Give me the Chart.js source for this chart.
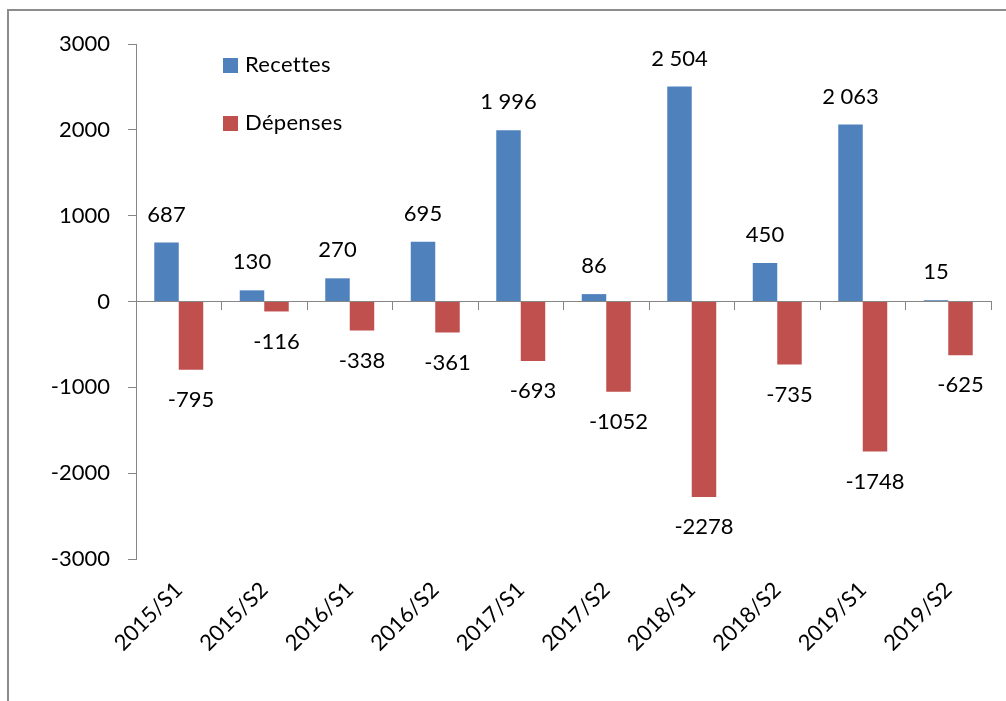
<!DOCTYPE html>
<html>
<head>
<meta charset="utf-8">
<script src="https://cdn.jsdelivr.net/npm/chart.js@4.4.1/dist/chart.umd.min.js"></script>
<style>
  html, body { margin: 0; padding: 0; background: #fff; }
  #wrap { position: relative; width: 1006px; height: 701px; overflow: hidden; }
  #frame {
    position: absolute; left: 7px; top: 9px; width: 1040px; height: 740px;
    border-left: 2px solid #8c8c8c; border-top: 2px solid #8c8c8c;
  }
  #chart { position: absolute; left: 0; top: 0; }
</style>
</head>
<body>
<div id="wrap">
  <div id="frame"></div>
  <canvas id="chart" width="1006" height="701"></canvas>
</div>
<script>
// ---------- Data ----------

const periods = ['2015/S1', '2015/S2', '2016/S1', '2016/S2', '2017/S1',
                 '2017/S2', '2018/S1', '2018/S2', '2019/S1', '2019/S2'];
const recettes = [687, 130, 270, 695, 1996, 86, 2504, 450, 2063, 15];
const depenses = [-795, -116, -338, -361, -693, -1052, -2278, -735, -1748, -625];
const yTicks = [-3000, -2000, -1000, 0, 1000, 2000, 3000];

const FONT = 'Lato, "Noto Sans", sans-serif';
const AXIS_GREY = '#868686';

// positive values get a space as thousands separator, negatives don't
function fmt(v) {
  if (v >= 1000) {
    return String(v).replace(/\B(?=(\d{3})+(?!\d))/g, ' ');
  }
  return String(v);
}

// ---------- Plugins ----------

const valueLabels = {
  id: 'valueLabels',
  afterDatasetsDraw(chart) {
    const ctx = chart.ctx;
    ctx.save();
    ctx.font = '22px ' + FONT;
    ctx.fillStyle = '#000';
    ctx.textAlign = 'center';
    ctx.textBaseline = 'middle';
    chart.data.datasets.forEach((ds, i) => {
      chart.getDatasetMeta(i).data.forEach((bar, j) => {
        const v = ds.data[j];
        const y = v >= 0 ? bar.y - 28 : bar.y + 30;
        ctx.fillText(fmt(v), bar.x, y);
      });
    });
    ctx.restore();
  }
};

const innerLegend = {
  id: 'innerLegend',
  afterDraw(chart) {
    const ctx = chart.ctx;
    const x0 = chart.chartArea.left + 87;
    const y0 = chart.chartArea.top + 21;
    ctx.save();
    ctx.font = '22px ' + FONT;
    ctx.letterSpacing = '0.3px'; // keeps Lato from joining the "tt"
    ctx.textBaseline = 'middle';
    ctx.textAlign = 'left';
    chart.data.datasets.forEach((ds, i) => {
      const y = y0 + i * 58;
      ctx.fillStyle = ds.backgroundColor;
      ctx.fillRect(x0, y - 7, 15, 15);
      ctx.fillStyle = '#000';
      ctx.fillText(ds.label, x0 + 22, y);
    });
    ctx.restore();
  }
};

// ---------- Chart ----------

const ctx = document.getElementById('chart').getContext('2d');
new Chart(ctx, {
  type: 'bar',
  data: {
    labels: periods,
    datasets: [
      { label: 'Recettes', data: recettes, backgroundColor: '#4F81BD' },
      { label: 'Dépenses', data: depenses, backgroundColor: '#C0504D' }
    ]
  },
  options: {
    responsive: false,
    animation: false,
    barPercentage: 1,
    categoryPercentage: 0.573,
    layout: { padding: { left: 0, top: 44, right: 15, bottom: 0 } },
    plugins: {
      legend: { display: false },
      tooltip: { enabled: false }
    },
    scales: {
      x: {
        grid: { display: false, drawTicks: false },
        border: { display: false },
        ticks: {
          color: '#000',
          font: { family: FONT, size: 22 },
          maxRotation: 45,
          minRotation: 45,
          padding: 18
        },
        afterFit: (s) => { s.height = 142; }
      },
      // category axis drawn across zero, tick marks between categories
      xZero: {
        type: 'category',
        labels: periods,
        position: { y: 0 },
        ticks: { display: false },
        grid: { offset: true, drawOnChartArea: false, tickLength: 8, color: AXIS_GREY },
        border: { color: AXIS_GREY, width: 1 }
      },
      y: {
        min: yTicks[0],
        max: yTicks[yTicks.length - 1],
        afterBuildTicks: (s) => { s.ticks = yTicks.map((v) => ({ value: v })); },
        ticks: {
          color: '#000',
          font: { family: FONT, size: 22 },
          padding: 18,
          callback: (v) => String(v)
        },
        grid: { drawOnChartArea: false, tickLength: 8, color: AXIS_GREY },
        border: { color: AXIS_GREY, width: 1 },
        afterFit: (s) => { s.width = 136; }
      }
    }
  },
  plugins: [valueLabels, innerLegend]
});
</script>
</body>
</html>
